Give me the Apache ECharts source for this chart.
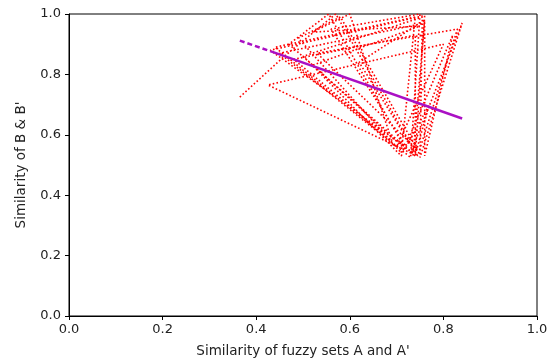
<!DOCTYPE html>
<html><head><meta charset="utf-8">
<script src="https://cdn.jsdelivr.net/npm/echarts@6/dist/echarts.min.js"></script>
<style>html,body{margin:0;padding:0;background:#fff}#c{width:553px;height:363px}</style>
</head><body><div id="c"></div>
<script>
const xTicks = [0, 0.2, 0.4, 0.6, 0.8, 1.0];
const yTicks = [0, 0.2, 0.4, 0.6, 0.8, 1.0];
const simA = [0.365,0.46,0.57,0.745,0.43,0.76,0.74,0.47,0.555,0.72,0.50,0.755,0.75,0.84,0.73,0.425,0.80,0.70,0.45,0.76,0.76,0.82,0.71,0.52,0.75,0.52,0.60,0.69,0.48,0.74,0.74,0.77,0.72,0.56,0.75,0.73,0.44,0.74,0.71,0.49,0.58,0.745,0.53,0.83,0.745,0.62,0.76,0.735];
const simB = [0.725,0.86,1.0,0.53,0.88,0.995,0.53,0.90,1.0,0.55,0.86,0.99,0.525,0.97,0.54,0.765,0.90,0.56,0.87,0.97,0.53,0.93,0.53,0.83,0.96,0.94,1.0,0.58,0.85,0.93,0.535,0.70,0.56,0.95,1.0,0.525,0.89,0.99,0.54,0.92,0.99,0.55,0.87,0.95,0.53,0.84,0.98,0.53];
const fitDashX = [0.365, 0.43];
const fitDashY = [0.912, 0.877];
const fitX = [0.43, 0.84];
const fitY = [0.877, 0.654];

const zip = (a, b) => a.map((v, i) => [v, b[i]]);
const chart = echarts.init(document.getElementById('c'), null, {renderer: 'canvas'});
const font = 'DejaVu Sans';
const axisCommon = {
  min: 0, max: 1, interval: 0.2,
  axisLine: {show: true, onZero: false, lineStyle: {color: '#000', width: 1}},
  axisTick: {show: true, inside: false, length: 4, lineStyle: {color: '#000'}},
  splitLine: {show: false},
  axisLabel: {color: '#222', fontFamily: font, fontSize: 13, formatter: v => v.toFixed(1)},
  nameTextStyle: {color: '#222', fontFamily: font, fontSize: 13.5}
};
chart.setOption({
  animation: false,
  backgroundColor: '#fff',
  grid: {left: 69, right: 16, top: 14, bottom: 46, show: true, borderColor: '#000', borderWidth: 1, backgroundColor: 'transparent'},
  xAxis: Object.assign({}, axisCommon, {
    type: 'value', name: 'Similarity of fuzzy sets A and A\'', nameLocation: 'middle', nameGap: 28,
    axisLabel: Object.assign({}, axisCommon.axisLabel, {margin: 7})
  }),
  yAxis: Object.assign({}, axisCommon, {
    type: 'value', name: 'Similarity of B & B\'', nameLocation: 'middle', nameGap: 41,
    axisLabel: Object.assign({}, axisCommon.axisLabel, {margin: 8})
  }),
  series: [
    {type: 'line', data: zip(simA, simB), symbol: 'none', clip: true,
     lineStyle: {color: '#ff0000', width: 1.6, type: [1.6, 2.2]}},
    {type: 'line', data: zip(fitDashX, fitDashY), symbol: 'none',
     lineStyle: {color: '#aa10c4', width: 2.5, type: [5, 3]}},
    {type: 'line', data: zip(fitX, fitY), symbol: 'none',
     lineStyle: {color: '#aa10c4', width: 2.5}}
  ]
});
</script></body></html>
